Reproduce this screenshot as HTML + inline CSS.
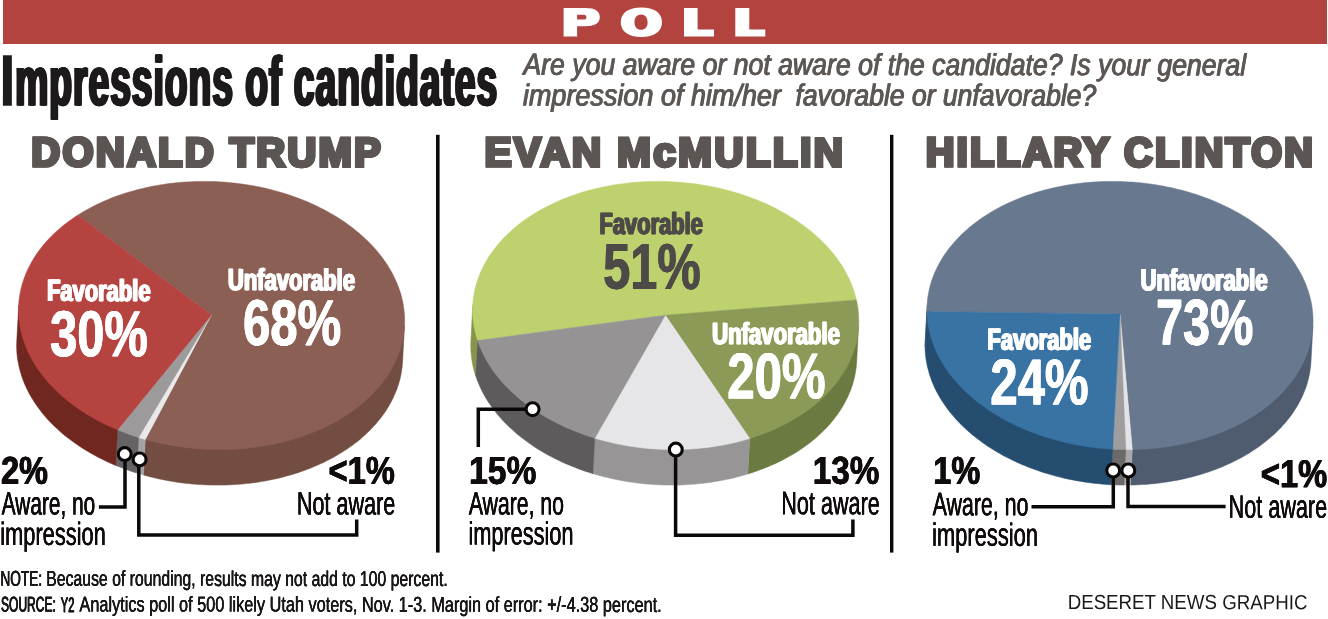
<!DOCTYPE html>
<html lang="en">
<head>
<meta charset="utf-8">
<title>Poll: Impressions of candidates</title>
<style>
html,body{margin:0;padding:0;background:#fff;}
body{width:1328px;height:619px;position:relative;overflow:hidden;font-family:"Liberation Sans",sans-serif;}
#bar{position:absolute;left:2.5px;top:0;width:1324.3px;height:43.8px;background:#b2433f;}
svg{position:absolute;left:0;top:0;will-change:transform;}
text{font-family:"Liberation Sans",sans-serif;text-rendering:geometricPrecision;white-space:pre;}
.b{font-weight:bold;}
.i{font-style:italic;}
</style>
</head>
<body>
<div id="bar"></div>
<svg width="1328" height="619" viewBox="0 0 1328 619">
<path fill="#fff" fill-rule="evenodd" d="M563.6,7.9 H585.5 C595.5,7.9 599.8,11.2 599.8,17.1 C599.8,23 595.5,26.3 585.5,26.3 H577.1 V36.6 H563.6 Z M577.1,14.8 V19.5 H583.6 C585.7,19.5 586.4,18.6 586.4,17.15 C586.4,15.7 585.7,14.8 583.6,14.8 Z"/>
<path fill="#fff" fill-rule="evenodd" d="M620.80,22.25 C620.80,13.02 628.42,7.60 641.40,7.60 C654.38,7.60 662.00,13.02 662.00,22.25 C662.00,31.48 654.38,36.90 641.40,36.90 C628.42,36.90 620.80,31.48 620.80,22.25 Z M634.50,22.15 C634.50,17.56 637.12,14.50 641.05,14.50 C644.98,14.50 647.60,17.56 647.60,22.15 C647.60,26.74 644.98,29.80 641.05,29.80 C637.12,29.80 634.50,26.74 634.50,22.15 Z"/>
<path fill="#fff" d="M684.0,7.9 H697.6 V29.4 H714.0 V36.6 H684.0 Z"/>
<path fill="#fff" d="M735.3,7.9 H749.3 V29.4 H765.3 V36.6 H735.3 Z"/>
<path d="M404.5,325.9 L401.6,325.8 L401.4,328.4 L401.2,331.1 L400.9,333.7 L400.4,336.3 L400.0,338.9 L399.4,341.5 L398.8,344.1 L398.0,346.7 L397.3,349.2 L396.4,351.8 L395.5,354.3 L394.5,356.9 L393.4,359.4 L392.2,361.9 L391.0,364.3 L389.7,366.8 L388.3,369.2 L386.9,371.6 L385.4,374.0 L383.8,376.4 L382.1,378.7 L380.4,381.0 L378.6,383.3 L376.8,385.5 L374.8,387.8 L372.9,390.0 L370.8,392.2 L368.7,394.3 L366.5,396.4 L364.3,398.5 L362.0,400.5 L359.6,402.5 L357.2,404.5 L354.7,406.4 L352.2,408.3 L349.6,410.2 L346.9,412.0 L344.2,413.8 L341.5,415.6 L338.7,417.3 L335.8,418.9 L332.9,420.6 L329.9,422.2 L326.9,423.7 L323.9,425.2 L320.8,426.6 L317.6,428.1 L314.4,429.4 L311.2,430.7 L307.9,432.0 L304.6,433.2 L301.3,434.4 L297.9,435.5 L294.5,436.6 L291.1,437.6 L287.6,438.6 L284.1,439.6 L280.5,440.4 L277.0,441.3 L273.4,442.1 L269.8,442.8 L266.1,443.5 L262.5,444.1 L258.8,444.7 L255.1,445.2 L251.4,445.7 L247.6,446.1 L243.9,446.5 L240.1,446.8 L236.4,447.1 L232.6,447.3 L228.8,447.4 L225.0,447.5 L221.2,447.6 L217.4,447.6 L213.6,447.5 L209.7,447.4 L205.9,447.3 L202.1,447.1 L198.3,446.8 L194.5,446.5 L190.7,446.1 L187.0,445.7 L183.2,445.2 L179.4,444.7 L175.7,444.1 L171.9,443.5 L168.2,442.8 L164.5,442.1 L160.8,441.3 L157.2,440.4 L153.5,439.6 L149.9,438.6 L146.3,437.6 L145.3,439.5 L143.4,475.0 L147.1,476.0 L150.7,476.9 L154.4,477.8 L158.2,478.7 L161.9,479.5 L165.7,480.2 L169.4,480.9 L173.2,481.6 L177.0,482.2 L180.8,482.7 L184.7,483.2 L188.5,483.6 L192.4,484.0 L196.2,484.3 L200.1,484.6 L204.0,484.8 L207.8,484.9 L211.7,485.1 L215.6,485.1 L219.4,485.1 L223.3,485.1 L227.1,484.9 L231.0,484.8 L234.8,484.6 L238.7,484.3 L242.5,484.0 L246.3,483.6 L250.1,483.2 L253.8,482.7 L257.6,482.2 L261.3,481.6 L265.1,480.9 L268.8,480.2 L272.4,479.5 L276.1,478.7 L279.7,477.9 L283.3,477.0 L286.8,476.0 L290.4,475.0 L293.9,474.0 L297.3,472.9 L300.8,471.7 L304.2,470.5 L307.5,469.3 L310.8,468.0 L314.1,466.6 L317.3,465.3 L320.5,463.8 L323.7,462.4 L326.8,460.8 L329.8,459.3 L332.8,457.7 L335.8,456.0 L338.7,454.3 L341.5,452.6 L344.3,450.8 L347.1,449.0 L349.8,447.1 L352.4,445.3 L355.0,443.3 L357.5,441.4 L360.0,439.4 L362.4,437.3 L364.7,435.2 L367.0,433.1 L369.2,431.0 L371.3,428.8 L373.4,426.6 L375.4,424.4 L377.4,422.1 L379.3,419.8 L381.1,417.5 L382.8,415.2 L384.5,412.8 L386.1,410.4 L387.6,408.0 L389.1,405.5 L390.5,403.1 L391.8,400.6 L393.1,398.1 L394.2,395.5 L395.3,393.0 L396.4,390.4 L397.3,387.9 L398.2,385.3 L399.0,382.7 L399.7,380.0 L400.4,377.4 L400.9,374.8 L401.4,372.1 L401.8,369.5 L402.2,366.8 L402.4,364.1 L402.6,361.4Z" fill="#734c42" stroke="#734c42" stroke-width="0.5"/>
<path d="M145.3,439.5 L146.3,437.6 L144.7,437.2 L143.0,436.7 L141.3,436.2 L139.7,435.7 L138.6,437.5 L136.7,473.0 L138.4,473.5 L140.0,474.0 L141.7,474.5 L143.4,475.0Z" fill="#a5a3a4" stroke="#a5a3a4" stroke-width="0.5"/>
<path d="M138.6,437.5 L139.7,435.7 L136.2,434.5 L132.7,433.4 L129.2,432.1 L125.8,430.9 L122.4,429.6 L119.0,428.2 L117.6,429.9 L115.7,465.4 L119.1,466.8 L122.6,468.1 L126.1,469.4 L129.6,470.7 L133.1,471.9 L136.7,473.0Z" fill="#656364" stroke="#656364" stroke-width="0.5"/>
<path d="M117.6,429.9 L119.0,428.2 L115.7,426.8 L112.4,425.3 L109.1,423.8 L105.8,422.2 L102.6,420.6 L99.5,419.0 L96.4,417.3 L93.3,415.5 L90.3,413.7 L87.4,411.9 L84.4,410.1 L81.6,408.2 L78.8,406.2 L76.0,404.3 L73.4,402.2 L70.7,400.2 L68.2,398.1 L65.6,396.0 L63.2,393.9 L60.8,391.7 L58.5,389.5 L56.2,387.2 L54.0,384.9 L51.9,382.6 L49.8,380.3 L47.8,377.9 L45.9,375.6 L44.0,373.2 L42.2,370.7 L40.5,368.3 L38.8,365.8 L37.2,363.3 L35.7,360.8 L34.3,358.2 L32.9,355.7 L31.6,353.1 L30.4,350.5 L29.3,347.9 L28.2,345.3 L27.2,342.7 L26.3,340.0 L25.5,337.4 L24.7,334.7 L24.1,332.1 L23.5,329.4 L22.9,326.7 L22.5,324.0 L22.1,321.3 L21.8,318.7 L21.6,316.0 L21.5,313.3 L21.4,310.6 L21.5,307.9 L21.6,305.2 L18.7,305.1 L16.8,340.6 L16.7,343.3 L16.6,346.0 L16.7,348.7 L16.8,351.5 L17.0,354.2 L17.3,356.9 L17.7,359.7 L18.2,362.4 L18.7,365.1 L19.3,367.8 L20.0,370.5 L20.8,373.2 L21.6,375.9 L22.5,378.6 L23.5,381.3 L24.6,383.9 L25.8,386.6 L27.0,389.2 L28.3,391.8 L29.7,394.4 L31.2,397.0 L32.7,399.5 L34.3,402.1 L36.0,404.6 L37.7,407.1 L39.6,409.5 L41.4,412.0 L43.4,414.4 L45.4,416.8 L47.5,419.2 L49.7,421.5 L51.9,423.8 L54.2,426.1 L56.6,428.3 L59.0,430.5 L61.5,432.7 L64.1,434.9 L66.7,437.0 L69.4,439.1 L72.1,441.1 L74.9,443.1 L77.7,445.1 L80.6,447.0 L83.6,448.9 L86.6,450.7 L89.6,452.5 L92.7,454.3 L95.9,456.0 L99.1,457.7 L102.3,459.3 L105.6,460.9 L108.9,462.5 L112.3,464.0 L115.7,465.4Z" fill="#70271f" stroke="#70271f" stroke-width="0.5"/>
<path d="M211.4,314.9 L77.7,215.2 L80.5,213.4 L83.4,211.7 L86.3,210.0 L89.3,208.4 L92.3,206.8 L95.4,205.2 L98.5,203.7 L101.7,202.2 L104.9,200.8 L108.2,199.5 L111.4,198.1 L114.8,196.8 L118.2,195.6 L121.6,194.4 L125.0,193.3 L128.5,192.2 L132.0,191.2 L135.6,190.2 L139.1,189.3 L142.8,188.4 L146.4,187.5 L150.1,186.8 L153.7,186.0 L157.5,185.4 L161.2,184.7 L164.9,184.2 L168.7,183.6 L172.5,183.2 L176.3,182.8 L180.1,182.4 L184.0,182.1 L187.8,181.9 L191.7,181.7 L195.5,181.5 L199.4,181.4 L203.3,181.4 L207.1,181.4 L211.0,181.5 L214.9,181.6 L218.8,181.8 L222.6,182.0 L226.5,182.3 L230.4,182.7 L234.2,183.1 L238.1,183.5 L241.9,184.0 L245.7,184.6 L249.5,185.2 L253.3,185.8 L257.1,186.6 L260.9,187.3 L264.6,188.1 L268.3,189.0 L272.0,189.9 L275.7,190.9 L279.3,191.9 L283.0,193.0 L286.5,194.1 L290.1,195.3 L293.6,196.5 L297.1,197.8 L300.6,199.1 L304.0,200.4 L307.4,201.8 L310.7,203.3 L314.0,204.8 L317.3,206.3 L320.5,207.9 L323.7,209.6 L326.8,211.2 L329.9,212.9 L333.0,214.7 L336.0,216.5 L338.9,218.3 L341.8,220.2 L344.6,222.1 L347.4,224.1 L350.1,226.1 L352.8,228.1 L355.4,230.2 L358.0,232.3 L360.5,234.4 L362.9,236.5 L365.3,238.7 L367.6,241.0 L369.9,243.2 L372.1,245.5 L374.2,247.8 L376.2,250.1 L378.2,252.5 L380.2,254.9 L382.0,257.3 L383.8,259.8 L385.5,262.2 L387.2,264.7 L388.7,267.2 L390.2,269.7 L391.7,272.3 L393.0,274.8 L394.3,277.4 L395.5,280.0 L396.7,282.6 L397.7,285.2 L398.7,287.8 L399.7,290.5 L400.5,293.1 L401.3,295.8 L401.9,298.5 L402.6,301.1 L403.1,303.8 L403.5,306.5 L403.9,309.2 L404.2,311.9 L404.4,314.6 L404.6,317.3 L404.6,320.0 L404.6,322.7 L404.5,325.4 L404.4,328.0 L404.1,330.7 L403.8,333.4 L403.4,336.1 L402.9,338.7 L402.4,341.4 L401.7,344.0 L401.0,346.6 L400.3,349.2 L399.4,351.8 L398.5,354.4 L397.4,357.0 L396.4,359.5 L395.2,362.1 L394.0,364.6 L392.7,367.1 L391.3,369.6 L389.8,372.0 L388.3,374.5 L386.7,376.9 L385.0,379.2 L383.3,381.6 L381.5,383.9 L379.6,386.2 L377.7,388.5 L375.6,390.8 L373.6,393.0 L371.4,395.2 L369.2,397.3 L366.9,399.4 L364.6,401.5 L362.2,403.6 L359.8,405.6 L357.2,407.5 L354.7,409.5 L352.0,411.4 L349.3,413.3 L346.6,415.1 L343.8,416.9 L341.0,418.6 L338.0,420.3 L335.1,422.0 L332.1,423.6 L329.0,425.2 L325.9,426.7 L322.8,428.2 L319.6,429.6 L316.4,431.0 L313.1,432.3 L309.8,433.6 L306.4,434.9 L303.0,436.1 L299.6,437.3 L296.1,438.4 L292.6,439.4 L289.1,440.4 L285.5,441.4 L281.9,442.3 L278.3,443.1 L274.6,443.9 L270.9,444.7 L267.2,445.4 L263.5,446.0 L259.8,446.6 L256.0,447.2 L252.2,447.6 L248.4,448.1 L244.6,448.5 L240.8,448.8 L236.9,449.1 L233.1,449.3 L229.2,449.4 L225.4,449.5 L221.5,449.6 L217.6,449.6 L213.8,449.6 L209.9,449.4 L206.0,449.3 L202.1,449.1 L198.3,448.8 L194.4,448.5 L190.5,448.1 L186.7,447.7 L182.8,447.2 L179.0,446.7 L175.2,446.1 L171.4,445.4 L167.6,444.7 L163.8,444.0 L160.1,443.2 L156.4,442.3 L152.7,441.4 L149.0,440.5 L145.3,439.5Z" fill="#8c5f55" stroke="#8c5f55" stroke-width="0.5"/>
<path d="M211.4,314.9 L145.3,439.5 L143.6,439.0 L141.9,438.5 L140.3,438.0 L138.6,437.5Z" fill="#e9e9ea" stroke="#e9e9ea" stroke-width="0.5"/>
<path d="M211.4,314.9 L138.6,437.5 L135.0,436.4 L131.5,435.2 L128.0,433.9 L124.5,432.6 L121.0,431.3 L117.6,429.9Z" fill="#9c9a9b" stroke="#9c9a9b" stroke-width="0.5"/>
<path d="M211.4,314.9 L117.6,429.9 L114.3,428.5 L110.9,427.0 L107.7,425.5 L104.4,423.9 L101.2,422.3 L98.0,420.7 L94.9,419.0 L91.9,417.3 L88.9,415.5 L85.9,413.7 L83.0,411.8 L80.1,409.9 L77.3,408.0 L74.5,406.0 L71.8,404.0 L69.2,402.0 L66.6,399.9 L64.1,397.8 L61.6,395.7 L59.2,393.5 L56.9,391.3 L54.6,389.0 L52.3,386.8 L50.2,384.5 L48.1,382.2 L46.1,379.8 L44.1,377.4 L42.2,375.0 L40.4,372.6 L38.6,370.2 L36.9,367.7 L35.3,365.2 L33.8,362.7 L32.3,360.2 L30.9,357.6 L29.6,355.0 L28.3,352.5 L27.1,349.9 L26.0,347.3 L25.0,344.6 L24.1,342.0 L23.2,339.4 L22.4,336.7 L21.6,334.0 L21.0,331.4 L20.4,328.7 L19.9,326.0 L19.5,323.3 L19.1,320.6 L18.9,318.0 L18.7,315.3 L18.6,312.6 L18.5,309.9 L18.6,307.2 L18.7,304.5 L18.9,301.8 L19.2,299.1 L19.5,296.5 L20.0,293.8 L20.5,291.2 L21.1,288.5 L21.7,285.9 L22.5,283.3 L23.3,280.7 L24.2,278.1 L25.2,275.5 L26.2,272.9 L27.3,270.4 L28.5,267.9 L29.8,265.4 L31.1,262.9 L32.5,260.4 L34.0,258.0 L35.6,255.5 L37.2,253.1 L38.9,250.8 L40.7,248.4 L42.5,246.1 L44.4,243.8 L46.4,241.6 L48.4,239.3 L50.5,237.1 L52.7,235.0 L54.9,232.8 L57.2,230.7 L59.6,228.7 L62.0,226.6 L64.5,224.6 L67.0,222.7 L69.6,220.7 L72.2,218.9 L74.9,217.0 L77.7,215.2Z" fill="#b5433f" stroke="#b5433f" stroke-width="0.5"/>
<path d="M477.7,340.6 L480.5,340.2 L479.7,337.6 L478.9,334.9 L478.2,332.2 L477.6,329.5 L477.1,326.8 L476.6,324.1 L476.2,321.4 L475.9,318.7 L475.7,316.0 L475.6,313.3 L475.5,310.6 L475.6,307.9 L475.7,305.2 L472.8,305.1 L470.9,340.6 L470.8,343.3 L470.7,346.0 L470.8,348.8 L470.9,351.5 L471.2,354.3 L471.5,357.0 L471.8,359.8 L472.3,362.5 L472.8,365.2 L473.4,368.0 L474.1,370.7 L474.9,373.4 L475.8,376.1Z" fill="#869549" stroke="#869549" stroke-width="0.5"/>
<path d="M858.6,325.9 L855.7,325.8 L855.5,328.4 L855.3,331.1 L855.0,333.7 L854.5,336.3 L854.1,338.9 L853.5,341.5 L852.9,344.1 L852.1,346.7 L851.4,349.3 L850.5,351.8 L849.6,354.4 L848.5,356.9 L847.5,359.4 L846.3,361.9 L845.1,364.4 L843.8,366.8 L842.4,369.2 L841.0,371.6 L839.4,374.0 L837.9,376.4 L836.2,378.7 L834.5,381.0 L832.7,383.3 L830.8,385.6 L828.9,387.8 L826.9,390.0 L824.9,392.2 L822.7,394.3 L820.6,396.5 L818.3,398.5 L816.0,400.6 L813.6,402.6 L811.2,404.6 L808.7,406.5 L806.2,408.4 L803.6,410.3 L800.9,412.1 L798.2,413.9 L795.5,415.6 L792.7,417.3 L789.8,419.0 L786.9,420.6 L783.9,422.2 L780.9,423.7 L777.8,425.2 L774.7,426.7 L771.6,428.1 L768.4,429.5 L765.2,430.8 L761.9,432.1 L758.6,433.3 L755.3,434.5 L751.9,435.6 L748.5,436.7 L749.7,438.5 L747.8,474.0 L751.3,472.9 L754.7,471.8 L758.1,470.6 L761.5,469.3 L764.8,468.0 L768.1,466.7 L771.3,465.3 L774.5,463.9 L777.7,462.4 L780.8,460.9 L783.8,459.3 L786.8,457.7 L789.8,456.1 L792.7,454.4 L795.5,452.7 L798.4,450.9 L801.1,449.1 L803.8,447.2 L806.4,445.3 L809.0,443.4 L811.5,441.4 L814.0,439.4 L816.4,437.4 L818.7,435.3 L821.0,433.2 L823.2,431.0 L825.4,428.9 L827.5,426.7 L829.5,424.4 L831.4,422.2 L833.3,419.9 L835.1,417.5 L836.9,415.2 L838.6,412.8 L840.2,410.4 L841.7,408.0 L843.2,405.6 L844.6,403.1 L845.9,400.6 L847.2,398.1 L848.3,395.6 L849.4,393.0 L850.5,390.5 L851.4,387.9 L852.3,385.3 L853.1,382.7 L853.8,380.1 L854.5,377.4 L855.0,374.8 L855.5,372.1 L855.9,369.5 L856.3,366.8 L856.5,364.1 L856.7,361.4Z" fill="#6b7a40" stroke="#6b7a40" stroke-width="0.5"/>
<path d="M749.7,438.5 L748.5,436.7 L745.0,437.7 L741.5,438.7 L738.0,439.6 L734.4,440.5 L730.8,441.3 L727.2,442.1 L723.6,442.9 L719.9,443.5 L716.2,444.2 L712.5,444.7 L708.8,445.3 L705.1,445.7 L701.3,446.2 L697.5,446.5 L693.7,446.8 L690.0,447.1 L686.1,447.3 L682.3,447.5 L678.5,447.6 L674.7,447.6 L670.9,447.6 L667.0,447.5 L663.2,447.4 L659.4,447.2 L655.5,447.0 L651.7,446.7 L647.9,446.4 L644.1,446.0 L640.3,445.6 L636.5,445.1 L632.7,444.6 L629.0,444.0 L625.2,443.3 L621.5,442.6 L617.8,441.9 L614.1,441.1 L610.4,440.2 L606.7,439.3 L603.1,438.4 L599.5,437.4 L595.9,436.3 L594.8,438.2 L592.9,473.7 L596.6,474.7 L600.2,475.7 L603.9,476.7 L607.6,477.6 L611.4,478.5 L615.1,479.3 L618.9,480.1 L622.7,480.8 L626.5,481.4 L630.3,482.0 L634.2,482.6 L638.0,483.1 L641.9,483.5 L645.7,483.9 L649.6,484.2 L653.5,484.5 L657.4,484.7 L661.3,484.9 L665.2,485.0 L669.0,485.1 L672.9,485.1 L676.8,485.1 L680.7,485.0 L684.6,484.8 L688.4,484.6 L692.3,484.3 L696.1,484.0 L699.9,483.6 L703.8,483.2 L707.6,482.7 L711.3,482.2 L715.1,481.6 L718.8,481.0 L722.5,480.3 L726.2,479.6 L729.9,478.8 L733.6,477.9 L737.2,477.0 L740.7,476.1 L744.3,475.1 L747.8,474.0Z" fill="#989596" stroke="#989596" stroke-width="0.5"/>
<path d="M594.8,438.2 L595.9,436.3 L592.4,435.2 L588.8,434.1 L585.4,432.9 L581.9,431.6 L578.5,430.3 L575.1,429.0 L571.8,427.6 L568.5,426.2 L565.2,424.7 L562.0,423.2 L558.8,421.6 L555.6,420.0 L552.5,418.4 L549.5,416.7 L546.5,415.0 L543.5,413.2 L540.6,411.4 L537.7,409.5 L534.9,407.7 L532.2,405.7 L529.5,403.8 L526.8,401.8 L524.3,399.7 L521.7,397.7 L519.3,395.6 L516.8,393.5 L514.5,391.3 L512.2,389.1 L510.0,386.9 L507.8,384.6 L505.7,382.3 L503.7,380.0 L501.7,377.7 L499.8,375.3 L498.0,373.0 L496.2,370.6 L494.5,368.1 L492.9,365.7 L491.3,363.2 L489.8,360.7 L488.4,358.2 L487.0,355.7 L485.8,353.2 L484.6,350.6 L483.4,348.0 L482.4,345.4 L481.4,342.8 L480.5,340.2 L477.7,340.6 L475.8,376.1 L476.7,378.8 L477.7,381.4 L478.8,384.0 L479.9,386.6 L481.1,389.2 L482.4,391.8 L483.8,394.4 L485.2,396.9 L486.7,399.4 L488.3,401.9 L490.0,404.4 L491.7,406.9 L493.5,409.3 L495.4,411.8 L497.3,414.2 L499.3,416.5 L501.4,418.9 L503.5,421.2 L505.7,423.5 L508.0,425.7 L510.3,427.9 L512.7,430.1 L515.1,432.3 L517.6,434.4 L520.2,436.5 L522.8,438.6 L525.5,440.6 L528.3,442.6 L531.1,444.6 L533.9,446.5 L536.8,448.4 L539.8,450.2 L542.8,452.0 L545.8,453.7 L548.9,455.5 L552.1,457.1 L555.2,458.8 L558.5,460.3 L561.8,461.9 L565.1,463.4 L568.4,464.8 L571.8,466.2 L575.3,467.6 L578.7,468.9 L582.2,470.2 L585.8,471.4 L589.3,472.5 L592.9,473.7Z" fill="#5e5b5c" stroke="#5e5b5c" stroke-width="0.5"/>
<path d="M665.3,315.2 L477.7,340.6 L476.8,338.0 L476.1,335.3 L475.4,332.6 L474.8,330.0 L474.2,327.3 L473.8,324.6 L473.4,321.9 L473.1,319.2 L472.9,316.5 L472.7,313.8 L472.7,311.1 L472.7,308.4 L472.7,305.8 L472.9,303.1 L473.2,300.4 L473.5,297.7 L473.9,295.1 L474.3,292.4 L474.9,289.7 L475.5,287.1 L476.2,284.5 L477.0,281.9 L477.9,279.3 L478.8,276.7 L479.8,274.1 L480.9,271.6 L482.1,269.0 L483.3,266.5 L484.6,264.0 L486.0,261.5 L487.4,259.1 L488.9,256.6 L490.5,254.2 L492.2,251.9 L493.9,249.5 L495.7,247.2 L497.6,244.9 L499.6,242.6 L501.6,240.3 L503.6,238.1 L505.8,235.9 L508.0,233.8 L510.3,231.7 L512.6,229.6 L515.0,227.5 L517.4,225.5 L519.9,223.5 L522.5,221.6 L525.1,219.7 L527.8,217.8 L530.6,216.0 L533.4,214.2 L536.2,212.5 L539.1,210.8 L542.1,209.1 L545.1,207.5 L548.1,205.9 L551.2,204.4 L554.4,202.9 L557.6,201.5 L560.8,200.1 L564.1,198.7 L567.4,197.4 L570.7,196.2 L574.1,195.0 L577.6,193.8 L581.0,192.7 L584.5,191.6 L588.1,190.6 L591.6,189.7 L595.2,188.8 L598.9,187.9 L602.5,187.1 L606.2,186.4 L609.9,185.7 L613.6,185.0 L617.3,184.4 L621.1,183.9 L624.9,183.4 L628.7,182.9 L632.5,182.6 L636.3,182.2 L640.2,182.0 L644.0,181.7 L647.9,181.6 L651.7,181.5 L655.6,181.4 L659.5,181.4 L663.4,181.4 L667.2,181.5 L671.1,181.7 L675.0,181.9 L678.9,182.2 L682.7,182.5 L686.6,182.9 L690.4,183.3 L694.3,183.8 L698.1,184.3 L701.9,184.9 L705.7,185.5 L709.5,186.2 L713.3,187.0 L717.0,187.8 L720.7,188.6 L724.4,189.5 L728.1,190.5 L731.8,191.4 L735.4,192.5 L739.0,193.6 L742.6,194.7 L746.1,195.9 L749.6,197.2 L753.1,198.5 L756.5,199.8 L759.9,201.2 L763.3,202.6 L766.6,204.1 L769.9,205.6 L773.2,207.2 L776.4,208.8 L779.5,210.5 L782.6,212.2 L785.7,213.9 L788.7,215.7 L791.7,217.5 L794.6,219.4 L797.4,221.2 L800.2,223.2 L803.0,225.2 L805.7,227.2 L808.3,229.2 L810.9,231.3 L813.4,233.4 L815.9,235.5 L818.3,237.7 L820.7,239.9 L822.9,242.2 L825.2,244.4 L827.3,246.7 L829.4,249.1 L831.4,251.4 L833.4,253.8 L835.3,256.2 L837.1,258.6 L838.8,261.1 L840.5,263.6 L842.1,266.1 L843.7,268.6 L845.1,271.1 L846.5,273.7 L847.8,276.2 L849.1,278.8 L850.3,281.4 L851.4,284.0 L852.4,286.6 L853.3,289.3 L854.2,291.9 L855.0,294.6 L855.7,297.2 L856.4,299.9Z" fill="#bdd16f" stroke="#bdd16f" stroke-width="0.5"/>
<path d="M665.3,315.2 L856.4,299.9 L857.0,302.6 L857.4,305.3 L857.9,308.0 L858.2,310.8 L858.5,313.5 L858.6,316.2 L858.7,318.9 L858.8,321.6 L858.7,324.3 L858.6,327.1 L858.3,329.8 L858.0,332.5 L857.7,335.2 L857.2,337.8 L856.7,340.5 L856.1,343.2 L855.4,345.8 L854.6,348.5 L853.7,351.1 L852.8,353.7 L851.8,356.3 L850.7,358.9 L849.6,361.5 L848.4,364.0 L847.1,366.5 L845.7,369.0 L844.2,371.5 L842.7,374.0 L841.1,376.4 L839.4,378.8 L837.7,381.2 L835.9,383.6 L834.0,385.9 L832.0,388.2 L830.0,390.5 L827.9,392.7 L825.8,394.9 L823.5,397.1 L821.3,399.2 L818.9,401.3 L816.5,403.4 L814.0,405.5 L811.5,407.4 L808.9,409.4 L806.2,411.3 L803.5,413.2 L800.7,415.1 L797.9,416.9 L795.0,418.6 L792.1,420.3 L789.1,422.0 L786.1,423.6 L783.0,425.2 L779.9,426.8 L776.7,428.3 L773.5,429.7 L770.2,431.1 L766.9,432.5 L763.5,433.8 L760.1,435.0 L756.7,436.2 L753.2,437.4 L749.7,438.5Z" fill="#8b9b57" stroke="#8b9b57" stroke-width="0.5"/>
<path d="M665.3,315.2 L749.7,438.5 L746.2,439.6 L742.6,440.6 L739.1,441.5 L735.5,442.4 L731.8,443.3 L728.1,444.1 L724.4,444.8 L720.7,445.5 L717.0,446.1 L713.2,446.7 L709.5,447.2 L705.7,447.7 L701.8,448.1 L698.0,448.5 L694.2,448.8 L690.3,449.1 L686.5,449.3 L682.6,449.5 L678.7,449.6 L674.8,449.6 L670.9,449.6 L667.1,449.5 L663.2,449.4 L659.3,449.2 L655.4,449.0 L651.5,448.7 L647.6,448.4 L643.8,448.0 L639.9,447.6 L636.1,447.1 L632.2,446.5 L628.4,445.9 L624.6,445.3 L620.8,444.6 L617.0,443.8 L613.3,443.0 L609.5,442.1 L605.8,441.2 L602.1,440.2 L598.5,439.2 L594.8,438.2Z" fill="#e6e6e8" stroke="#e6e6e8" stroke-width="0.5"/>
<path d="M665.3,315.2 L594.8,438.2 L591.2,437.0 L587.7,435.9 L584.1,434.7 L580.6,433.4 L577.2,432.1 L573.7,430.7 L570.3,429.3 L567.0,427.9 L563.7,426.4 L560.4,424.8 L557.1,423.3 L554.0,421.6 L550.8,420.0 L547.7,418.2 L544.7,416.5 L541.7,414.7 L538.7,412.9 L535.8,411.0 L533.0,409.1 L530.2,407.1 L527.4,405.1 L524.7,403.1 L522.1,401.0 L519.5,398.9 L517.0,396.8 L514.6,394.6 L512.2,392.4 L509.9,390.2 L507.6,388.0 L505.4,385.7 L503.3,383.4 L501.2,381.0 L499.2,378.7 L497.3,376.3 L495.4,373.8 L493.6,371.4 L491.9,368.9 L490.2,366.4 L488.6,363.9 L487.1,361.4 L485.7,358.9 L484.3,356.3 L483.0,353.7 L481.8,351.1 L480.7,348.5 L479.6,345.9 L478.6,343.3 L477.7,340.6Z" fill="#959394" stroke="#959394" stroke-width="0.5"/>
<path d="M1312.9,325.9 L1310.0,325.8 L1309.8,328.4 L1309.6,331.1 L1309.2,333.7 L1308.8,336.3 L1308.3,339.0 L1307.8,341.6 L1307.1,344.2 L1306.4,346.8 L1305.6,349.3 L1304.8,351.9 L1303.8,354.5 L1302.8,357.0 L1301.7,359.5 L1300.5,362.0 L1299.3,364.5 L1298.0,366.9 L1296.6,369.4 L1295.2,371.8 L1293.6,374.2 L1292.0,376.6 L1290.4,378.9 L1288.6,381.2 L1286.8,383.5 L1285.0,385.8 L1283.0,388.0 L1281.0,390.2 L1279.0,392.4 L1276.8,394.6 L1274.6,396.7 L1272.4,398.8 L1270.0,400.8 L1267.7,402.8 L1265.2,404.8 L1262.7,406.7 L1260.2,408.6 L1257.6,410.5 L1254.9,412.3 L1252.2,414.1 L1249.4,415.9 L1246.5,417.6 L1243.7,419.2 L1240.7,420.9 L1237.8,422.4 L1234.7,424.0 L1231.6,425.5 L1228.5,426.9 L1225.4,428.3 L1222.2,429.7 L1218.9,431.0 L1215.6,432.3 L1212.3,433.5 L1208.9,434.7 L1205.5,435.8 L1202.1,436.9 L1198.6,437.9 L1195.1,438.9 L1191.6,439.8 L1188.0,440.7 L1184.4,441.5 L1180.8,442.3 L1177.2,443.0 L1173.5,443.7 L1169.8,444.3 L1166.1,444.8 L1162.4,445.4 L1158.7,445.8 L1154.9,446.2 L1151.2,446.6 L1147.4,446.9 L1143.6,447.1 L1139.8,447.3 L1136.0,447.5 L1132.2,447.6 L1132.3,449.6 L1130.4,485.1 L1134.3,485.0 L1138.2,484.8 L1142.0,484.6 L1145.9,484.4 L1149.7,484.1 L1153.6,483.7 L1157.4,483.3 L1161.2,482.8 L1164.9,482.3 L1168.7,481.7 L1172.4,481.1 L1176.2,480.4 L1179.9,479.7 L1183.5,478.9 L1187.2,478.1 L1190.8,477.2 L1194.4,476.2 L1197.9,475.3 L1201.4,474.2 L1204.9,473.1 L1208.4,472.0 L1211.8,470.8 L1215.2,469.6 L1218.5,468.3 L1221.8,466.9 L1225.1,465.6 L1228.3,464.1 L1231.4,462.7 L1234.6,461.1 L1237.6,459.6 L1240.7,458.0 L1243.7,456.3 L1246.6,454.6 L1249.5,452.9 L1252.3,451.1 L1255.0,449.3 L1257.7,447.4 L1260.4,445.6 L1263.0,443.6 L1265.5,441.6 L1268.0,439.6 L1270.4,437.6 L1272.8,435.5 L1275.1,433.4 L1277.3,431.3 L1279.5,429.1 L1281.6,426.9 L1283.6,424.6 L1285.6,422.4 L1287.5,420.1 L1289.3,417.7 L1291.1,415.4 L1292.8,413.0 L1294.4,410.6 L1295.9,408.2 L1297.4,405.7 L1298.8,403.2 L1300.1,400.7 L1301.4,398.2 L1302.6,395.7 L1303.7,393.1 L1304.7,390.6 L1305.7,388.0 L1306.6,385.4 L1307.4,382.7 L1308.1,380.1 L1308.7,377.5 L1309.3,374.8 L1309.8,372.2 L1310.2,369.5 L1310.6,366.8 L1310.8,364.1 L1311.0,361.4Z" fill="#4f5c70" stroke="#4f5c70" stroke-width="0.5"/>
<path d="M927.0,311.5 L929.9,311.6 L929.8,310.0 L929.9,308.4 L929.9,306.8 L930.0,305.2 L927.1,305.1 L925.2,340.6 L925.1,342.2 L925.1,343.8 L925.0,345.4 L925.1,347.0Z" fill="#4f5c70" stroke="#4f5c70" stroke-width="0.5"/>
<path d="M1132.3,449.6 L1132.2,447.6 L1130.5,447.6 L1128.9,447.6 L1127.3,447.6 L1125.7,447.6 L1125.8,449.6 L1123.9,485.1 L1125.5,485.1 L1127.2,485.1 L1128.8,485.1 L1130.4,485.1Z" fill="#a9a7a8" stroke="#a9a7a8" stroke-width="0.5"/>
<path d="M1125.8,449.6 L1125.7,447.6 L1122.5,447.6 L1119.3,447.5 L1116.0,447.4 L1112.8,447.2 L1112.7,449.2 L1110.8,484.7 L1114.1,484.9 L1117.3,485.0 L1120.6,485.1 L1123.9,485.1Z" fill="#6b696a" stroke="#6b696a" stroke-width="0.5"/>
<path d="M1112.7,449.2 L1112.8,447.2 L1109.0,447.0 L1105.2,446.7 L1101.4,446.3 L1097.6,445.9 L1093.9,445.5 L1090.1,445.0 L1086.3,444.5 L1082.6,443.9 L1078.9,443.2 L1075.2,442.5 L1071.5,441.8 L1067.8,441.0 L1064.1,440.1 L1060.5,439.2 L1056.9,438.2 L1053.3,437.2 L1049.8,436.2 L1046.2,435.1 L1042.8,433.9 L1039.3,432.7 L1035.9,431.5 L1032.5,430.2 L1029.1,428.9 L1025.8,427.5 L1022.5,426.1 L1019.2,424.6 L1016.0,423.1 L1012.8,421.5 L1009.7,419.9 L1006.6,418.3 L1003.6,416.6 L1000.6,414.9 L997.7,413.1 L994.8,411.3 L991.9,409.5 L989.2,407.6 L986.4,405.7 L983.7,403.7 L981.1,401.7 L978.5,399.7 L976.0,397.7 L973.6,395.6 L971.2,393.5 L968.8,391.3 L966.5,389.1 L964.3,386.9 L962.2,384.7 L960.1,382.4 L958.0,380.1 L956.1,377.8 L954.2,375.4 L952.3,373.1 L950.6,370.7 L948.9,368.3 L947.3,365.8 L945.7,363.4 L944.2,360.9 L942.8,358.4 L941.5,355.9 L940.2,353.4 L939.0,350.8 L937.8,348.3 L936.8,345.7 L935.8,343.1 L934.9,340.5 L934.1,337.9 L933.3,335.3 L932.6,332.7 L932.0,330.1 L931.5,327.4 L931.0,324.8 L930.6,322.1 L930.3,319.5 L930.1,316.9 L929.9,314.2 L929.9,311.6 L927.0,311.5 L925.1,347.0 L925.1,349.7 L925.3,352.4 L925.5,355.1 L925.8,357.7 L926.2,360.4 L926.7,363.1 L927.2,365.8 L927.9,368.4 L928.6,371.1 L929.3,373.8 L930.2,376.4 L931.1,379.0 L932.1,381.7 L933.2,384.3 L934.3,386.9 L935.5,389.4 L936.8,392.0 L938.2,394.6 L939.6,397.1 L941.1,399.6 L942.7,402.1 L944.4,404.6 L946.1,407.0 L947.9,409.5 L949.8,411.9 L951.7,414.2 L953.7,416.6 L955.7,418.9 L957.9,421.2 L960.0,423.5 L962.3,425.7 L964.6,428.0 L967.0,430.1 L969.4,432.3 L971.9,434.4 L974.5,436.5 L977.1,438.6 L979.8,440.6 L982.5,442.6 L985.3,444.5 L988.1,446.4 L991.0,448.3 L993.9,450.1 L996.9,451.9 L999.9,453.6 L1003.0,455.4 L1006.1,457.0 L1009.3,458.6 L1012.5,460.2 L1015.8,461.8 L1019.1,463.3 L1022.4,464.7 L1025.8,466.1 L1029.2,467.5 L1032.7,468.8 L1036.2,470.0 L1039.7,471.2 L1043.2,472.4 L1046.8,473.5 L1050.4,474.6 L1054.0,475.6 L1057.7,476.6 L1061.4,477.5 L1065.1,478.4 L1068.8,479.2 L1072.6,479.9 L1076.3,480.7 L1080.1,481.3 L1083.9,481.9 L1087.7,482.5 L1091.6,483.0 L1095.4,483.4 L1099.2,483.8 L1103.1,484.2 L1107.0,484.5 L1110.8,484.7Z" fill="#244d70" stroke="#244d70" stroke-width="0.5"/>
<path d="M1120.0,314.1 L927.0,311.5 L927.0,308.8 L927.0,306.1 L927.2,303.4 L927.4,300.8 L927.7,298.1 L928.1,295.4 L928.6,292.8 L929.1,290.1 L929.7,287.5 L930.4,284.8 L931.2,282.2 L932.0,279.6 L933.0,277.0 L934.0,274.5 L935.0,271.9 L936.2,269.4 L937.4,266.9 L938.7,264.4 L940.1,261.9 L941.5,259.4 L943.0,257.0 L944.6,254.6 L946.3,252.2 L948.0,249.8 L949.8,247.5 L951.7,245.2 L953.6,242.9 L955.6,240.7 L957.6,238.4 L959.8,236.2 L962.0,234.1 L964.2,232.0 L966.6,229.9 L968.9,227.8 L971.4,225.8 L973.9,223.8 L976.4,221.9 L979.1,220.0 L981.7,218.1 L984.5,216.3 L987.3,214.5 L990.1,212.7 L993.0,211.0 L996.0,209.3 L998.9,207.7 L1002.0,206.1 L1005.1,204.6 L1008.2,203.1 L1011.4,201.7 L1014.6,200.3 L1017.9,198.9 L1021.2,197.6 L1024.6,196.3 L1028.0,195.1 L1031.4,194.0 L1034.8,192.8 L1038.3,191.8 L1041.9,190.8 L1045.4,189.8 L1049.0,188.9 L1052.6,188.0 L1056.3,187.2 L1060.0,186.5 L1063.7,185.7 L1067.4,185.1 L1071.1,184.5 L1074.9,183.9 L1078.6,183.4 L1082.4,183.0 L1086.3,182.6 L1090.1,182.3 L1093.9,182.0 L1097.8,181.8 L1101.6,181.6 L1105.5,181.5 L1109.3,181.4 L1113.2,181.4 L1117.1,181.4 L1121.0,181.5 L1124.8,181.7 L1128.7,181.9 L1132.6,182.1 L1136.5,182.4 L1140.3,182.8 L1144.2,183.2 L1148.0,183.7 L1151.8,184.2 L1155.7,184.8 L1159.5,185.4 L1163.2,186.1 L1167.0,186.9 L1170.8,187.6 L1174.5,188.5 L1178.2,189.4 L1181.9,190.3 L1185.6,191.3 L1189.2,192.3 L1192.8,193.4 L1196.4,194.6 L1199.9,195.8 L1203.4,197.0 L1206.9,198.3 L1210.3,199.6 L1213.8,201.0 L1217.1,202.4 L1220.5,203.9 L1223.7,205.4 L1227.0,207.0 L1230.2,208.6 L1233.4,210.2 L1236.5,211.9 L1239.5,213.6 L1242.6,215.4 L1245.5,217.2 L1248.5,219.1 L1251.3,221.0 L1254.1,222.9 L1256.9,224.9 L1259.6,226.9 L1262.3,228.9 L1264.8,231.0 L1267.4,233.1 L1269.9,235.2 L1272.3,237.4 L1274.6,239.6 L1276.9,241.8 L1279.1,244.1 L1281.3,246.4 L1283.4,248.7 L1285.4,251.1 L1287.4,253.5 L1289.3,255.9 L1291.1,258.3 L1292.9,260.7 L1294.6,263.2 L1296.2,265.7 L1297.7,268.2 L1299.2,270.7 L1300.6,273.3 L1302.0,275.8 L1303.2,278.4 L1304.4,281.0 L1305.5,283.6 L1306.5,286.2 L1307.5,288.9 L1308.4,291.5 L1309.2,294.2 L1309.9,296.8 L1310.6,299.5 L1311.2,302.2 L1311.7,304.9 L1312.1,307.6 L1312.4,310.2 L1312.7,312.9 L1312.9,315.6 L1313.0,318.3 L1313.1,321.0 L1313.0,323.7 L1312.9,326.4 L1312.7,329.1 L1312.4,331.8 L1312.1,334.4 L1311.6,337.1 L1311.1,339.7 L1310.5,342.4 L1309.9,345.0 L1309.1,347.6 L1308.3,350.2 L1307.4,352.8 L1306.5,355.4 L1305.4,358.0 L1304.3,360.5 L1303.1,363.1 L1301.9,365.6 L1300.5,368.0 L1299.1,370.5 L1297.6,373.0 L1296.1,375.4 L1294.5,377.8 L1292.8,380.2 L1291.0,382.5 L1289.2,384.8 L1287.3,387.1 L1285.3,389.4 L1283.3,391.6 L1281.2,393.8 L1279.0,396.0 L1276.8,398.1 L1274.5,400.2 L1272.1,402.3 L1269.7,404.3 L1267.2,406.3 L1264.7,408.3 L1262.1,410.2 L1259.4,412.1 L1256.7,414.0 L1254.0,415.8 L1251.1,417.5 L1248.3,419.3 L1245.3,420.9 L1242.4,422.6 L1239.3,424.2 L1236.3,425.7 L1233.2,427.3 L1230.0,428.7 L1226.8,430.1 L1223.5,431.5 L1220.2,432.8 L1216.9,434.1 L1213.5,435.4 L1210.1,436.5 L1206.7,437.7 L1203.2,438.8 L1199.7,439.8 L1196.1,440.8 L1192.5,441.7 L1188.9,442.6 L1185.3,443.4 L1181.6,444.2 L1178.0,444.9 L1174.3,445.6 L1170.5,446.3 L1166.8,446.8 L1163.0,447.3 L1159.2,447.8 L1155.4,448.2 L1151.6,448.6 L1147.8,448.9 L1143.9,449.1 L1140.1,449.3 L1136.2,449.5 L1132.3,449.6Z" fill="#68798f" stroke="#68798f" stroke-width="0.5"/>
<path d="M1120.0,314.1 L1132.3,449.6 L1130.7,449.6 L1129.1,449.6 L1127.4,449.6 L1125.8,449.6Z" fill="#e4e4e6" stroke="#e4e4e6" stroke-width="0.5"/>
<path d="M1120.0,314.1 L1125.8,449.6 L1122.5,449.6 L1119.2,449.5 L1116.0,449.4 L1112.7,449.2Z" fill="#9f9d9e" stroke="#9f9d9e" stroke-width="0.5"/>
<path d="M1120.0,314.1 L1112.7,449.2 L1108.9,449.0 L1105.0,448.7 L1101.1,448.3 L1097.3,447.9 L1093.5,447.5 L1089.6,447.0 L1085.8,446.4 L1082.0,445.8 L1078.2,445.2 L1074.5,444.4 L1070.7,443.7 L1067.0,442.9 L1063.3,442.0 L1059.6,441.1 L1055.9,440.1 L1052.3,439.1 L1048.7,438.0 L1045.1,436.9 L1041.6,435.7 L1038.1,434.5 L1034.6,433.3 L1031.1,432.0 L1027.7,430.6 L1024.3,429.2 L1021.0,427.8 L1017.7,426.3 L1014.4,424.7 L1011.2,423.1 L1008.0,421.5 L1004.9,419.9 L1001.8,418.1 L998.8,416.4 L995.8,414.6 L992.9,412.8 L990.0,410.9 L987.2,409.0 L984.4,407.1 L981.7,405.1 L979.0,403.1 L976.4,401.0 L973.8,398.9 L971.3,396.8 L968.9,394.6 L966.5,392.5 L964.2,390.2 L961.9,388.0 L959.8,385.7 L957.6,383.4 L955.6,381.1 L953.6,378.7 L951.7,376.4 L949.8,374.0 L948.0,371.5 L946.3,369.1 L944.6,366.6 L943.0,364.1 L941.5,361.6 L940.1,359.1 L938.7,356.5 L937.4,353.9 L936.2,351.4 L935.1,348.8 L934.0,346.2 L933.0,343.5 L932.1,340.9 L931.2,338.3 L930.5,335.6 L929.8,332.9 L929.1,330.3 L928.6,327.6 L928.1,324.9 L927.7,322.2 L927.4,319.6 L927.2,316.9 L927.0,314.2 L927.0,311.5Z" fill="#3873a3" stroke="#3873a3" stroke-width="0.5"/>
<rect x="436" y="134.8" width="3.6" height="417.8" fill="#0b0808"/>
<rect x="890" y="134.8" width="3.4" height="417.8" fill="#0b0808"/>
<polyline points="125.0,454.0 125.0,506.9 98.9,506.9" fill="none" stroke="#0b0808" stroke-width="3.5" stroke-linejoin="miter"/>
<polyline points="138.8,459.4 138.8,535.0 356.7,535.0 356.7,519.5" fill="none" stroke="#0b0808" stroke-width="3.5" stroke-linejoin="miter"/>
<circle cx="124.7" cy="454.1" r="6.45" fill="#fff" stroke="#0b0808" stroke-width="3.1"/>
<circle cx="139.6" cy="459.4" r="6.45" fill="#fff" stroke="#0b0808" stroke-width="3.1"/>
<polyline points="532.5,409.2 478.3,409.2 478.3,447.1" fill="none" stroke="#0b0808" stroke-width="3.5" stroke-linejoin="miter"/>
<polyline points="675.6,449.6 675.6,535.2 852.9,535.2 852.9,519.5" fill="none" stroke="#0b0808" stroke-width="3.5" stroke-linejoin="miter"/>
<circle cx="532.6" cy="409.2" r="6.45" fill="#fff" stroke="#0b0808" stroke-width="3.1"/>
<circle cx="675.8" cy="449.6" r="6.45" fill="#fff" stroke="#0b0808" stroke-width="3.1"/>
<polyline points="1113.3,470.5 1113.3,506.8 1031.5,506.8" fill="none" stroke="#0b0808" stroke-width="3.5" stroke-linejoin="miter"/>
<polyline points="1128.0,470.5 1128.0,506.6 1225.6,506.6" fill="none" stroke="#0b0808" stroke-width="3.5" stroke-linejoin="miter"/>
<circle cx="1113.2" cy="470.5" r="6.45" fill="#fff" stroke="#0b0808" stroke-width="3.1"/>
<circle cx="1128.3" cy="470.5" r="6.45" fill="#fff" stroke="#0b0808" stroke-width="3.1"/>
<g transform="translate(-1.14,105.70) rotate(0.05) scale(0.8443,1)" fill="#1d1a1b" font-size="73.54"><text id="t0" x="0" y="0" class="b">I</text></g>
<g transform="translate(15.17,105.04) rotate(0.05) scale(0.5392,1)" fill="#1d1a1b" font-size="69.01" stroke="#1d1a1b" stroke-width="0.93" stroke-linejoin="miter" stroke-miterlimit="2.5"><text id="t1" x="0" y="0" class="b" letter-spacing="1.854">mpressions of candidates</text><use href="#t1" x="1.85"/><use href="#t1" x="-1.85"/><use href="#t1" x="0.93"/><use href="#t1" x="-0.93"/></g>
<g transform="translate(523.39,74.61) rotate(0.05) scale(0.8781,1)" fill="#5d5855" font-size="30.35" stroke="#5d5855" stroke-width="0.26" stroke-linejoin="miter" stroke-miterlimit="2.5"><text id="t2" x="0" y="0" class="i">Are you aware or not aware of the candidate? Is your general</text><use href="#t2" x="0.38"/><use href="#t2" x="-0.38"/></g>
<g transform="translate(522.88,105.46) rotate(0.05) scale(0.8892,1)" fill="#5d5855" font-size="30.37" stroke="#5d5855" stroke-width="0.24" stroke-linejoin="miter" stroke-miterlimit="2.5"><text id="t3" x="0" y="0" class="i">impression of him/her</text><use href="#t3" x="0.37"/><use href="#t3" x="-0.37"/></g>
<g transform="translate(788.14,105.44) rotate(0.05) scale(0.8737,1)" fill="#5d5855" font-size="30.35" stroke="#5d5855" stroke-width="0.26" stroke-linejoin="miter" stroke-miterlimit="2.5"><text id="t4" x="0" y="0" class="i"> favorable or unfavorable?</text><use href="#t4" x="0.39"/><use href="#t4" x="-0.39"/></g>
<g transform="translate(31.41,166.04) rotate(0.05) scale(0.9780,1)" fill="#5b5653" font-size="40.71" stroke="#5b5653" stroke-width="3.05" stroke-linejoin="miter" stroke-miterlimit="2.5"><text id="t5" x="0" y="0" class="b" letter-spacing="2.454">DONALD TRUMP</text><use href="#t5" x="0.38"/><use href="#t5" x="-0.38"/></g>
<g transform="translate(484.62,166.09) rotate(0.05) scale(0.9896,1)" fill="#5b5653" font-size="40.86" stroke="#5b5653" stroke-width="2.94" stroke-linejoin="miter" stroke-miterlimit="2.5"><text id="t6" x="0" y="0" class="b" letter-spacing="2.425">EVAN McMULLIN</text><use href="#t6" x="0.37"/><use href="#t6" x="-0.37"/></g>
<g transform="translate(925.88,165.98) rotate(0.05) scale(0.9691,1)" fill="#5b5653" font-size="40.58" stroke="#5b5653" stroke-width="3.13" stroke-linejoin="miter" stroke-miterlimit="2.5"><text id="t7" x="0" y="0" class="b" letter-spacing="2.477">HILLARY CLINTON</text><use href="#t7" x="0.39"/><use href="#t7" x="-0.39"/></g>
<g transform="translate(47.08,300.86) rotate(0.05) scale(0.7221,1)" fill="#ffffff" font-size="30.32" stroke="#ffffff" stroke-width="0.58" stroke-linejoin="miter" stroke-miterlimit="2.5"><text id="t8" x="0" y="0" class="b">Favorable</text><use href="#t8" x="0.87"/><use href="#t8" x="-0.87"/></g>
<g transform="translate(50.19,356.02) rotate(0.05) scale(0.7563,1)" fill="#ffffff" font-size="64.48" stroke="#ffffff" stroke-width="0.28" stroke-linejoin="miter" stroke-miterlimit="2.5"><text id="t9" x="0" y="0" class="b">30%</text><use href="#t9" x="0.42"/><use href="#t9" x="-0.42"/></g>
<g transform="translate(227.91,290.06) rotate(0.05) scale(0.7250,1)" fill="#ffffff" font-size="30.33" stroke="#ffffff" stroke-width="0.57" stroke-linejoin="miter" stroke-miterlimit="2.5"><text id="t10" x="0" y="0" class="b">Unfavorable</text><use href="#t10" x="0.86"/><use href="#t10" x="-0.86"/></g>
<g transform="translate(243.12,344.87) rotate(0.05) scale(0.7591,1)" fill="#ffffff" font-size="64.49" stroke="#ffffff" stroke-width="0.27" stroke-linejoin="miter" stroke-miterlimit="2.5"><text id="t11" x="0" y="0" class="b">68%</text><use href="#t11" x="0.41"/><use href="#t11" x="-0.41"/></g>
<g transform="translate(599.38,233.97) rotate(0.05) scale(0.7228,1)" fill="#4e4a48" font-size="30.32" stroke="#4e4a48" stroke-width="0.58" stroke-linejoin="miter" stroke-miterlimit="2.5"><text id="t12" x="0" y="0" class="b">Favorable</text><use href="#t12" x="0.87"/><use href="#t12" x="-0.87"/></g>
<g transform="translate(603.17,288.62) rotate(0.05) scale(0.7549,1)" fill="#4e4a48" font-size="64.47" stroke="#4e4a48" stroke-width="0.29" stroke-linejoin="miter" stroke-miterlimit="2.5"><text id="t13" x="0" y="0" class="b">51%</text><use href="#t13" x="0.43"/><use href="#t13" x="-0.43"/></g>
<g transform="translate(712.10,343.96) rotate(0.05) scale(0.7288,1)" fill="#ffffff" font-size="30.34" stroke="#ffffff" stroke-width="0.57" stroke-linejoin="miter" stroke-miterlimit="2.5"><text id="t14" x="0" y="0" class="b">Unfavorable</text><use href="#t14" x="0.85"/><use href="#t14" x="-0.85"/></g>
<g transform="translate(727.37,398.32) rotate(0.05) scale(0.7602,1)" fill="#ffffff" font-size="64.50" stroke="#ffffff" stroke-width="0.27" stroke-linejoin="miter" stroke-miterlimit="2.5"><text id="t15" x="0" y="0" class="b">20%</text><use href="#t15" x="0.40"/><use href="#t15" x="-0.40"/></g>
<g transform="translate(1140.52,290.16) rotate(0.05) scale(0.7244,1)" fill="#ffffff" font-size="30.33" stroke="#ffffff" stroke-width="0.58" stroke-linejoin="miter" stroke-miterlimit="2.5"><text id="t16" x="0" y="0" class="b">Unfavorable</text><use href="#t16" x="0.86"/><use href="#t16" x="-0.86"/></g>
<g transform="translate(1156.03,344.36) rotate(0.05) scale(0.7536,1)" fill="#ffffff" font-size="64.46" stroke="#ffffff" stroke-width="0.29" stroke-linejoin="miter" stroke-miterlimit="2.5"><text id="t17" x="0" y="0" class="b">73%</text><use href="#t17" x="0.44"/><use href="#t17" x="-0.44"/></g>
<g transform="translate(987.37,349.67) rotate(0.05) scale(0.7248,1)" fill="#ffffff" font-size="30.33" stroke="#ffffff" stroke-width="0.58" stroke-linejoin="miter" stroke-miterlimit="2.5"><text id="t18" x="0" y="0" class="b">Favorable</text><use href="#t18" x="0.86"/><use href="#t18" x="-0.86"/></g>
<g transform="translate(990.37,404.17) rotate(0.05) scale(0.7602,1)" fill="#ffffff" font-size="64.50" stroke="#ffffff" stroke-width="0.27" stroke-linejoin="miter" stroke-miterlimit="2.5"><text id="t19" x="0" y="0" class="b">24%</text><use href="#t19" x="0.40"/><use href="#t19" x="-0.40"/></g>
<g transform="translate(1.06,483.75) rotate(0.05) scale(0.8351,1)" fill="#0f0c0b" font-size="38.79" stroke="#0f0c0b" stroke-width="0.26" stroke-linejoin="miter" stroke-miterlimit="2.5"><text id="t20" x="0" y="0" class="b">2%</text><use href="#t20" x="0.40"/><use href="#t20" x="-0.40"/></g>
<g transform="translate(1.69,514.50) rotate(0.05) scale(0.6433,1)" fill="#0f0c0b" font-size="32.44" stroke="#0f0c0b" stroke-width="0.13" stroke-linejoin="miter" stroke-miterlimit="2.5"><text id="t21" x="0" y="0">Aware, no</text><use href="#t21" x="0.19"/><use href="#t21" x="-0.19"/></g>
<g transform="translate(328.50,483.75) rotate(0.05) scale(0.8434,1)" fill="#0f0c0b" font-size="38.81" stroke="#0f0c0b" stroke-width="0.25" stroke-linejoin="miter" stroke-miterlimit="2.5"><text id="t22" x="0" y="0" class="b">&lt;1%</text><use href="#t22" x="0.37"/><use href="#t22" x="-0.37"/></g>
<g transform="translate(296.83,514.51) rotate(0.05) scale(0.6654,1)" fill="#0f0c0b" font-size="32.48" stroke="#0f0c0b" stroke-width="0.10" stroke-linejoin="miter" stroke-miterlimit="2.5"><text id="t23" x="0" y="0">Not aware</text><use href="#t23" x="0.14"/><use href="#t23" x="-0.14"/></g>
<g transform="translate(469.12,483.77) rotate(0.05) scale(0.8657,1)" fill="#0f0c0b" font-size="38.88" stroke="#0f0c0b" stroke-width="0.20" stroke-linejoin="miter" stroke-miterlimit="2.5"><text id="t24" x="0" y="0" class="b">15%</text><use href="#t24" x="0.30"/><use href="#t24" x="-0.30"/></g>
<g transform="translate(468.77,514.50) rotate(0.05) scale(0.6542,1)" fill="#0f0c0b" font-size="32.46" stroke="#0f0c0b" stroke-width="0.11" stroke-linejoin="miter" stroke-miterlimit="2.5"><text id="t25" x="0" y="0">Aware, no</text><use href="#t25" x="0.17"/><use href="#t25" x="-0.17"/></g>
<g transform="translate(812.77,483.76) rotate(0.05) scale(0.8575,1)" fill="#0f0c0b" font-size="38.86" stroke="#0f0c0b" stroke-width="0.22" stroke-linejoin="miter" stroke-miterlimit="2.5"><text id="t26" x="0" y="0" class="b">13%</text><use href="#t26" x="0.33"/><use href="#t26" x="-0.33"/></g>
<g transform="translate(781.22,514.31) rotate(0.05) scale(0.6661,1)" fill="#0f0c0b" font-size="32.48" stroke="#0f0c0b" stroke-width="0.09" stroke-linejoin="miter" stroke-miterlimit="2.5"><text id="t27" x="0" y="0">Not aware</text><use href="#t27" x="0.14"/><use href="#t27" x="-0.14"/></g>
<g transform="translate(933.27,483.75) rotate(0.05) scale(0.8385,1)" fill="#0f0c0b" font-size="38.80" stroke="#0f0c0b" stroke-width="0.26" stroke-linejoin="miter" stroke-miterlimit="2.5"><text id="t28" x="0" y="0" class="b">1%</text><use href="#t28" x="0.39"/><use href="#t28" x="-0.39"/></g>
<g transform="translate(932.67,515.31) rotate(0.05) scale(0.6576,1)" fill="#0f0c0b" font-size="32.47" stroke="#0f0c0b" stroke-width="0.11" stroke-linejoin="miter" stroke-miterlimit="2.5"><text id="t29" x="0" y="0">Aware, no</text><use href="#t29" x="0.16"/><use href="#t29" x="-0.16"/></g>
<g transform="translate(1260.91,486.95) rotate(0.05) scale(0.8421,1)" fill="#0f0c0b" font-size="38.81" stroke="#0f0c0b" stroke-width="0.25" stroke-linejoin="miter" stroke-miterlimit="2.5"><text id="t30" x="0" y="0" class="b">&lt;1%</text><use href="#t30" x="0.38"/><use href="#t30" x="-0.38"/></g>
<g transform="translate(1228.62,517.71) rotate(0.05) scale(0.6661,1)" fill="#0f0c0b" font-size="32.48" stroke="#0f0c0b" stroke-width="0.09" stroke-linejoin="miter" stroke-miterlimit="2.5"><text id="t31" x="0" y="0">Not aware</text><use href="#t31" x="0.14"/><use href="#t31" x="-0.14"/></g>
<g transform="translate(0.26,544.91) rotate(0.05) scale(0.6718,1)" fill="#0f0c0b" font-size="32.49" stroke="#0f0c0b" stroke-width="0.09" stroke-linejoin="miter" stroke-miterlimit="2.5"><text id="t32" x="0" y="0">impression</text><use href="#t32" x="0.13"/><use href="#t32" x="-0.13"/></g>
<g transform="translate(468.47,544.51) rotate(0.05) scale(0.6685,1)" fill="#0f0c0b" font-size="32.49" stroke="#0f0c0b" stroke-width="0.09" stroke-linejoin="miter" stroke-miterlimit="2.5"><text id="t33" x="0" y="0">impression</text><use href="#t33" x="0.14"/><use href="#t33" x="-0.14"/></g>
<g transform="translate(932.05,545.81) rotate(0.05) scale(0.6743,1)" fill="#0f0c0b" font-size="32.50" stroke="#0f0c0b" stroke-width="0.08" stroke-linejoin="miter" stroke-miterlimit="2.5"><text id="t34" x="0" y="0">impression</text><use href="#t34" x="0.13"/><use href="#t34" x="-0.13"/></g>
<g transform="translate(0.40,585.84) rotate(0.05) scale(0.6378,1)" fill="#1a1718" font-size="21.36" stroke="#1a1718" stroke-width="0.19" stroke-linejoin="miter" stroke-miterlimit="2.5"><text id="t35" x="0" y="0">NOTE:</text><use href="#t35" x="0.28"/><use href="#t35" x="-0.28"/></g>
<g transform="translate(41.85,585.73) rotate(0.05) scale(0.7356,1)" fill="#1a1718" font-size="21.49" stroke="#1a1718" stroke-width="0.09" stroke-linejoin="miter" stroke-miterlimit="2.5"><text id="t36" x="0" y="0"> Because of rounding, results may not add to 100 percent.</text><use href="#t36" x="0.14"/><use href="#t36" x="-0.14"/></g>
<g transform="translate(1.05,611.54) rotate(0.05) scale(0.5676,1)" fill="#1a1718" font-size="21.16" stroke="#1a1718" stroke-width="0.27" stroke-linejoin="miter" stroke-miterlimit="2.5"><text id="t37" x="0" y="0">SOURCE:</text><use href="#t37" x="0.41"/><use href="#t37" x="-0.41"/></g>
<g transform="translate(57.89,611.53) rotate(0.05) scale(0.5283,1)" fill="#1a1718" font-size="21.07" stroke="#1a1718" stroke-width="0.33" stroke-linejoin="miter" stroke-miterlimit="2.5"><text id="t38" x="0" y="0"> Y2</text><use href="#t38" x="0.50"/><use href="#t38" x="-0.50"/></g>
<g transform="translate(75.82,611.41) rotate(0.05) scale(0.7598,1)" fill="#1a1718" font-size="21.44" stroke="#1a1718" stroke-width="0.08" stroke-linejoin="miter" stroke-miterlimit="2.5"><text id="t39" x="0" y="0"> Analytics poll of 500 likely Utah voters, Nov. 1-3. Margin of error: +/-4.38 percent.</text><use href="#t39" x="0.12"/><use href="#t39" x="-0.12"/></g>
<g transform="translate(1067.64,609.00) rotate(0.05) scale(0.9181,1)" fill="#1a1718" font-size="20.39"><text id="t40" x="0" y="0">DESERET NEWS GRAPHIC</text></g>
</svg>
</body>
</html>
